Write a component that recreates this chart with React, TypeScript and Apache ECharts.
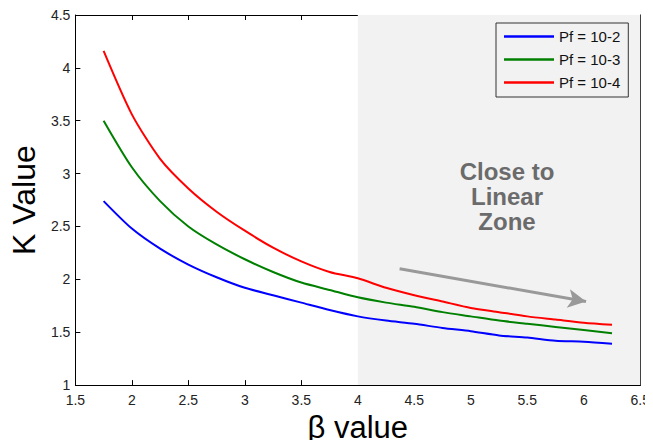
import React, { useEffect, useRef } from "react";
import * as echarts from "echarts";

const betaValues = [1.75, 2, 2.25, 2.5, 2.75, 3, 3.25, 3.5, 3.75, 4, 4.25, 4.5, 4.75, 5, 5.25, 5.5, 5.75, 6, 6.25];
const kPf2 = [2.74, 2.48, 2.29, 2.14, 2.02, 1.92, 1.85, 1.78, 1.71, 1.65, 1.61, 1.58, 1.54, 1.51, 1.47, 1.45, 1.42, 1.41, 1.39];
const kPf3 = [3.5, 3.06, 2.74, 2.5, 2.33, 2.19, 2.07, 1.97, 1.9, 1.83, 1.78, 1.74, 1.69, 1.65, 1.61, 1.58, 1.55, 1.52, 1.49];
const kPf4 = [4.16, 3.56, 3.14, 2.86, 2.64, 2.46, 2.3, 2.17, 2.07, 2.01, 1.92, 1.85, 1.79, 1.73, 1.69, 1.65, 1.62, 1.59, 1.57];
const seriesNames = ["Pf = 10-2", "Pf = 10-3", "Pf = 10-4"];
const seriesColors = ["#0000ff", "#008000", "#ff0000"];
const zoneRange = [4, 6.5];
const arrowFrom = [4.37, 2.1];
const arrowTo = [6.02, 1.79];
const zoneText = "Close to\nLinear\nZone";

export default function App() {
  const ref = useRef<HTMLDivElement>(null);
  useEffect(() => {
    if (!ref.current) return;
    const chart = echarts.init(ref.current, null, { renderer: "svg" });
    const font = "Arial, 'Liberation Sans', sans-serif";
    const mk = (vals: number[]) => betaValues.map((b, i) => [b, vals[i]]);
    const axisCommon = {
      axisLine: { show: true, lineStyle: { color: "#000", width: 1 } },
      axisTick: { show: true, inside: true, length: 5, lineStyle: { color: "#000" } },
      splitLine: { show: false },
    };
    chart.setOption({
      animation: false,
      backgroundColor: "#fff",
      grid: { left: 73, right: 11, top: 15, bottom: 60 },
      xAxis: [
        {
          type: "value", min: 1.5, max: 6.5, interval: 0.5,
          ...axisCommon,
          axisLabel: { color: "#222", fontSize: 14, fontFamily: font, margin: 8 },
          name: "β value", nameLocation: "middle", nameGap: 24,
          nameTextStyle: { fontSize: 31, color: "#000", fontFamily: font },
        },
        {
          type: "value", min: 1.5, max: 6.5, interval: 0.5, position: "top",
          ...axisCommon, axisLabel: { show: false },
        },
      ],
      yAxis: [
        {
          type: "value", min: 1, max: 4.5, interval: 0.5,
          ...axisCommon,
          axisLabel: { color: "#222", fontSize: 14, fontFamily: font, margin: 5, lineHeight: 14 },
          name: "K Value", nameLocation: "middle", nameGap: 33,
          nameTextStyle: { fontSize: 32, color: "#000", fontFamily: font },
        },
        {
          type: "value", min: 1, max: 4.5, interval: 0.5, position: "right",
          ...axisCommon, axisLabel: { show: false },
        },
      ],
      legend: {
        data: seriesNames,
        orient: "vertical",
        left: 496, top: 23,
        icon: "rect",
        backgroundColor: "transparent",
        borderColor: "#333", borderWidth: 1,
        padding: [6, 8, 7, 8],
        itemWidth: 50, itemHeight: 2.5, itemGap: 8,
        textStyle: { fontSize: 15, lineHeight: 15, color: "#111", fontFamily: font },
      },
      graphic: [
        {
          type: "text", left: 507 - 70, top: 159, z: 5,
          style: {
            text: zoneText, x: 70, textAlign: "center", width: 140,
            fontSize: 24, fontWeight: "bold", fill: "#6b6b6b",
            lineHeight: 25, fontFamily: font,
          },
        },
      ],
      series: [
        {
          name: "zone", type: "line", data: [], silent: true,
          markArea: {
            silent: true,
            itemStyle: { color: "#f2f2f2" },
            data: [[{ xAxis: zoneRange[0] }, { xAxis: zoneRange[1] }]],
          },
          markLine: {
            silent: true,
            symbol: ["none", "arrow"], symbolSize: [14, 18],
            lineStyle: { color: "#999999", width: 3, type: "solid" },
            label: { show: false },
            data: [[{ coord: arrowFrom }, { coord: arrowTo }]],
          },
        },
        ...[kPf2, kPf3, kPf4].map((vals, i) => ({
          name: seriesNames[i], type: "line", data: mk(vals),
          showSymbol: false, symbol: "none", smooth: 0.25,
          lineStyle: { color: seriesColors[i], width: 2 },
          itemStyle: { color: seriesColors[i] },
          z: 3,
        })),
      ],
    });
    return () => chart.dispose();
  }, []);
  return <div ref={ref} style={{ width: 653, height: 448, margin: -8 }} />;
}
